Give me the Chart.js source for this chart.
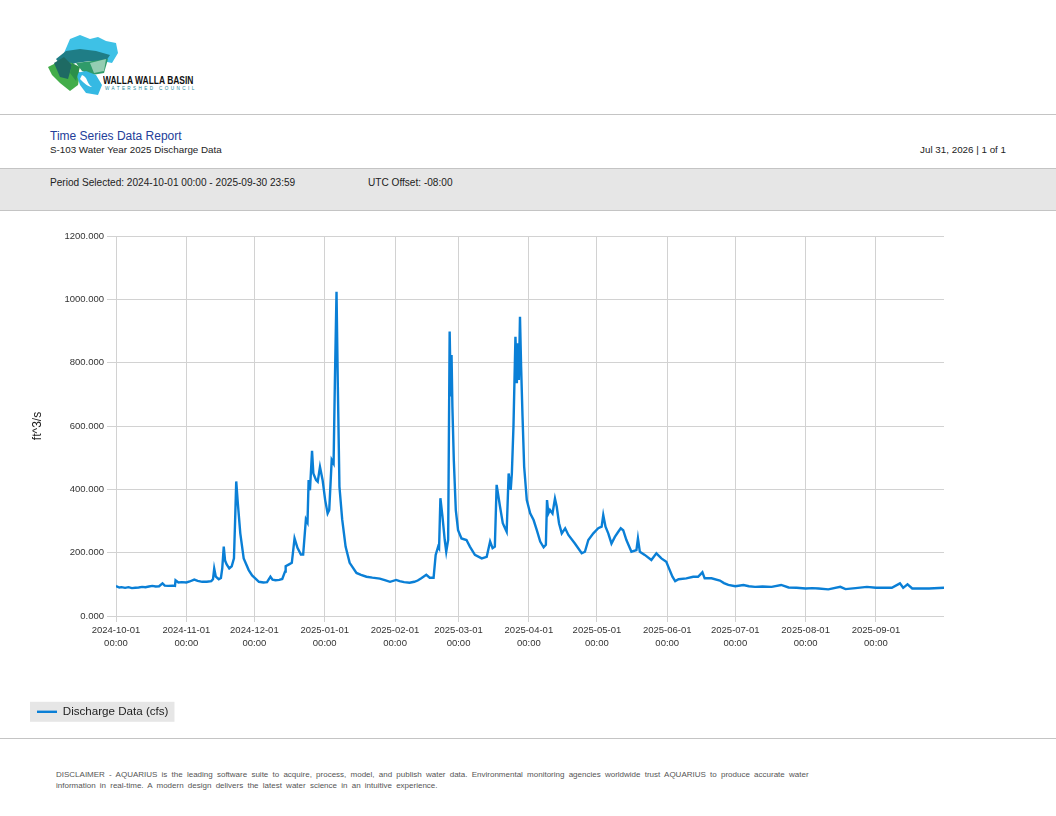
<!DOCTYPE html>
<html>
<head>
<meta charset="utf-8">
<title>S-103 Water Year 2025 Discharge Data</title>
<script src="https://cdn.jsdelivr.net/npm/chart.js@4.4.1/dist/chart.umd.min.js"></script>
<style>
  html, body { margin: 0; padding: 0; background: #fff; }
  body { position: relative; width: 1056px; height: 816px; overflow: hidden;
         font-family: "Liberation Sans", Arial, sans-serif; color: #222; }
  .abs { position: absolute; white-space: nowrap; }
  .rule { position: absolute; left: 0; width: 1056px; height: 0; border-top: 1px solid #c4c4c4; }
  .band { position: absolute; left: 0; top: 168px; width: 1056px; height: 41px;
          background: #e6e6e6; border-top: 1px solid #c4c4c4; border-bottom: 1px solid #c4c4c4; }
  #title { left: 50px; top: 129px; font-size: 12px; line-height: 14px; color: #23409a; }
  #subtitle { left: 50px; top: 144px; font-size: 9.8px; line-height: 12px; color: #222; }
  #stamp { right: 50px; top: 144px; font-size: 9.8px; line-height: 12px; color: #222; }
  #period { left: 50px; top: 177px; font-size: 10.1px; line-height: 12px; color: #222; }
  #utc { left: 368px; top: 177px; font-size: 10.1px; line-height: 12px; color: #222; }
  #chartBox { position: absolute; left: 0; top: 220px; width: 1056px; height: 515px; }
  #disclaimer { left: 56px; top: 769px; font-size: 8px; line-height: 11px; color: #555; word-spacing: 2px; }
  #logoText { left: 103px; top: 75px; font-weight: bold; font-size: 10px; line-height: 11px; color: #111;
              transform: scaleX(0.845); transform-origin: left top; }
  #logoSub { left: 105px; top: 86px; font-size: 4.6px; line-height: 6px; color: #1b8aa0; letter-spacing: 2.4px; }
</style>
</head>
<body>

<svg class="abs" style="left:46px;top:33px" width="76" height="64" viewBox="0 0 76 64">
  <path d="M24 6 L34 2 L44 6 L52 4 L60 8 L70 10 L72 20 L66 30 L56 28 L40 26 L26 24 L18 20 Z" fill="#3ec1e6"/>
  <path d="M10 26 L20 18 L34 16 L50 18 L64 22 L60 28 L44 28 L30 30 L16 34 Z" fill="#1f7d86"/>
  <path d="M30 30 L46 28 L62 26 L58 40 L46 42 L36 38 Z" fill="#2f9b6a"/>
  <path d="M44 30 L60 26 L58 38 L48 40 Z" fill="#d9efe3" opacity="0.6"/>
  <path d="M2 34 L14 28 L26 30 L34 40 L32 52 L24 58 L14 50 L6 42 Z" fill="#43ad4a"/>
  <path d="M8 30 L18 24 L26 32 L22 46 L14 44 Z" fill="#1e6a63"/>
  <path d="M30 40 L40 38 L50 42 L56 52 L52 62 L40 60 L34 52 Z" fill="#35b9e3"/>
  <path d="M36 42 C42 44 40 50 46 54 C42 54 38 50 34 46 Z" fill="#ffffff"/>
  <path d="M26 30 L34 34 L30 48 L24 40 Z" fill="#2b8f4a"/>
</svg>
<div class="abs" id="logoText">WALLA WALLA BASIN</div>
<div class="abs" id="logoSub">WATERSHED COUNCIL</div>

<div class="rule" style="top:114px"></div>
<div class="abs" id="title">Time Series Data Report</div>
<div class="abs" id="subtitle">S-103 Water Year 2025 Discharge Data</div>
<div class="abs" id="stamp">Jul 31, 2026 | 1 of 1</div>
<div class="band"></div>
<div class="abs" id="period">Period Selected: 2024-10-01 00:00 - 2025-09-30 23:59</div>
<div class="abs" id="utc">UTC Offset: -08:00</div>

<div id="chartBox"><canvas id="chart"></canvas></div>

<div class="rule" style="top:738px"></div>
<div class="abs" id="disclaimer">DISCLAIMER - AQUARIUS is the leading software suite to acquire, process, model, and publish water data. Environmental monitoring agencies worldwide trust AQUARIUS to produce accurate water<br>information in real-time. A modern design delivers the latest water science in an intuitive experience.</div>

<script>
// period shown on the report
const periodStart = '2024-10-01 00:00';
const periodEnd = '2025-09-30 23:59';

// x axis tick labels (month starts) and y axis ticks
const monthTicks = [
    '2024-10-01 00:00', '2024-11-01 00:00', '2024-12-01 00:00', '2025-01-01 00:00',
    '2025-02-01 00:00', '2025-03-01 00:00', '2025-04-01 00:00', '2025-05-01 00:00',
    '2025-06-01 00:00', '2025-07-01 00:00', '2025-08-01 00:00', '2025-09-01 00:00'
];
const yTicks = [0, 200, 400, 600, 800, 1000, 1200];

// Discharge Data (cfs)
const times = [
    '2024-10-01 00:00', '2024-10-01 12:00', '2024-10-02 12:00', '2024-10-03 12:00', '2024-10-05 00:00',
    '2024-10-06 12:00', '2024-10-08 00:00', '2024-10-09 12:00', '2024-10-11 00:00', '2024-10-12 12:00',
    '2024-10-14 00:00', '2024-10-15 12:00', '2024-10-17 00:00', '2024-10-18 12:00', '2024-10-20 00:00',
    '2024-10-21 12:00', '2024-10-22 12:00', '2024-10-24 00:00', '2024-10-26 00:00', '2024-10-27 00:00',
    '2024-10-27 06:00', '2024-10-28 12:00', '2024-10-30 00:00',
    '2024-11-01 00:00', '2024-11-02 12:00', '2024-11-04 12:00', '2024-11-06 00:00', '2024-11-08 00:00',
    '2024-11-10 00:00', '2024-11-12 00:00', '2024-11-12 18:00', '2024-11-13 07:00', '2024-11-14 00:00',
    '2024-11-15 07:00', '2024-11-16 06:00', '2024-11-16 20:00', '2024-11-17 12:00', '2024-11-18 02:00',
    '2024-11-18 19:00', '2024-11-19 22:00', '2024-11-21 00:00', '2024-11-22 00:00', '2024-11-22 12:00',
    '2024-11-23 00:00', '2024-11-23 17:00', '2024-11-24 19:00', '2024-11-26 07:00', '2024-11-28 12:00',
    '2024-11-30 00:00',
    '2024-12-01 12:00', '2024-12-03 00:00', '2024-12-05 00:00', '2024-12-06 14:00', '2024-12-08 02:00',
    '2024-12-09 00:00', '2024-12-10 07:00', '2024-12-12 00:00', '2024-12-13 07:00', '2024-12-14 12:00',
    '2024-12-14 19:00', '2024-12-16 07:00', '2024-12-17 12:00', '2024-12-18 17:00', '2024-12-20 00:00',
    '2024-12-21 12:00', '2024-12-22 12:00', '2024-12-23 17:00', '2024-12-24 10:00', '2024-12-24 22:00',
    '2024-12-25 12:00', '2024-12-26 10:00', '2024-12-27 00:00', '2024-12-28 05:00', '2024-12-28 22:00',
    '2024-12-29 22:00', '2024-12-31 02:00',
    '2025-01-01 05:00', '2025-01-02 07:00', '2025-01-03 00:00', '2025-01-04 02:00', '2025-01-04 22:00',
    '2025-01-05 12:00', '2025-01-06 05:00', '2025-01-06 19:00', '2025-01-07 12:00', '2025-01-08 17:00',
    '2025-01-10 05:00', '2025-01-12 00:00', '2025-01-15 00:00', '2025-01-17 00:00', '2025-01-19 10:00',
    '2025-01-22 00:00', '2025-01-25 07:00', '2025-01-27 12:00', '2025-01-29 19:00',
    '2025-02-01 12:00', '2025-02-03 00:00', '2025-02-05 00:00', '2025-02-07 10:00', '2025-02-09 12:00',
    '2025-02-11 00:00', '2025-02-12 14:00', '2025-02-14 19:00', '2025-02-16 07:00', '2025-02-18 00:00',
    '2025-02-18 22:00', '2025-02-20 00:00', '2025-02-20 10:00', '2025-02-21 00:00', '2025-02-21 22:00',
    '2025-02-22 22:00', '2025-02-23 14:00', '2025-02-24 10:00', '2025-02-25 02:00', '2025-02-25 14:00',
    '2025-02-25 22:00', '2025-02-26 07:00', '2025-02-26 22:00', '2025-02-27 19:00', '2025-02-28 19:00',
    '2025-03-02 07:00', '2025-03-04 12:00', '2025-03-06 00:00', '2025-03-08 05:00', '2025-03-11 05:00',
    '2025-03-13 10:00', '2025-03-14 22:00', '2025-03-16 00:00', '2025-03-17 00:00', '2025-03-17 19:00',
    '2025-03-19 07:00', '2025-03-20 12:00', '2025-03-21 12:00', '2025-03-22 05:00', '2025-03-23 02:00',
    '2025-03-24 00:00', '2025-03-24 12:00', '2025-03-25 05:00', '2025-03-26 02:00', '2025-03-26 17:00',
    '2025-03-27 02:00', '2025-03-27 14:00', '2025-03-28 02:00', '2025-03-28 14:00', '2025-03-29 05:00',
    '2025-03-29 22:00', '2025-03-31 02:00',
    '2025-04-01 14:00', '2025-04-03 02:00', '2025-04-04 12:00', '2025-04-06 00:00', '2025-04-07 12:00',
    '2025-04-08 12:00', '2025-04-09 00:00', '2025-04-09 14:00', '2025-04-10 07:00', '2025-04-11 10:00',
    '2025-04-12 12:00', '2025-04-13 07:00', '2025-04-14 07:00', '2025-04-15 12:00', '2025-04-17 00:00',
    '2025-04-18 10:00', '2025-04-21 07:00', '2025-04-24 07:00', '2025-04-25 17:00', '2025-04-27 05:00',
    '2025-04-29 10:00',
    '2025-05-01 14:00', '2025-05-03 02:00', '2025-05-03 19:00', '2025-05-04 19:00', '2025-05-06 00:00',
    '2025-05-07 10:00', '2025-05-08 22:00', '2025-05-10 10:00', '2025-05-11 12:00', '2025-05-12 14:00',
    '2025-05-14 00:00', '2025-05-16 05:00', '2025-05-18 10:00', '2025-05-19 02:00', '2025-05-19 22:00',
    '2025-05-22 02:00', '2025-05-25 00:00', '2025-05-27 05:00', '2025-05-29 10:00', '2025-05-31 14:00',
    '2025-06-01 12:00', '2025-06-03 07:00', '2025-06-04 12:00', '2025-06-06 00:00', '2025-06-09 10:00',
    '2025-06-12 10:00', '2025-06-14 14:00', '2025-06-16 12:00', '2025-06-17 12:00', '2025-06-20 12:00',
    '2025-06-24 05:00', '2025-06-26 00:00', '2025-06-27 22:00',
    '2025-07-01 00:00', '2025-07-04 14:00', '2025-07-07 00:00', '2025-07-09 17:00', '2025-07-13 00:00',
    '2025-07-17 00:00', '2025-07-21 05:00', '2025-07-24 12:00', '2025-07-28 00:00',
    '2025-08-01 00:00', '2025-08-04 00:00', '2025-08-06 17:00', '2025-08-11 00:00', '2025-08-16 07:00',
    '2025-08-18 14:00', '2025-08-23 00:00', '2025-08-28 00:00',
    '2025-09-01 00:00', '2025-09-08 00:00', '2025-09-11 14:00', '2025-09-13 00:00', '2025-09-14 22:00',
    '2025-09-17 00:00', '2025-09-24 10:00', '2025-09-30 23:59'
];
const discharge = [
    95, 93, 90, 91, 89, 91, 88, 89, 90, 92, 91, 93, 95, 93, 94, 103, 96, 95, 96, 95, 113, 106, 107,
    106, 109, 115, 111, 108, 108, 110, 116, 150, 124, 116, 120, 150, 219, 175, 163, 150, 157, 182, 300,
    425, 356, 261, 182, 145, 128,
    118, 108, 106, 107, 124, 115, 113, 114, 117, 140, 157, 163, 168, 245, 215, 194, 194, 305, 295, 429,
    397, 522, 450, 429, 424, 471, 429,
    366, 324, 335, 493, 482, 745, 1024, 724, 408, 305, 219, 168, 136, 130, 124, 121, 118, 113, 108,
    114, 110, 107, 105, 108, 112, 119, 130, 121, 121, 193, 219, 214, 372, 314, 240, 203, 240, 898, 693,
    824, 661, 492, 334, 271,
    245, 240, 219, 193, 182, 187, 235, 214, 219, 414, 345, 293, 277, 266, 450, 398, 450, 598, 882, 735,
    861, 745, 945, 787, 629, 472, 366,
    324, 303, 271, 235, 217, 225, 366, 324, 335, 324, 371, 345, 293, 261, 277, 256, 229, 198, 203, 240,
    261,
    277, 282, 319, 282, 261, 229, 250, 266, 277, 271, 240, 203, 208, 245, 203, 193, 177, 198, 182, 171,
    155, 124, 110, 116, 119, 124, 124, 138, 119, 119, 112, 104, 98,
    94, 98, 94, 92, 93, 92, 98, 90, 89,
    87, 88, 87, 84, 92, 85, 88, 92,
    89, 89, 103, 89, 100, 87, 87, 89
];

const DAY = 86400000;
const t0 = Date.parse(periodStart.replace(' ', 'T') + 'Z');
const toDay = s => (Date.parse(s.replace(' ', 'T') + 'Z') - t0) / DAY;

const tickFont = { family: '"Liberation Sans", Arial, sans-serif', size: 9.5, lineHeight: 1.37 };
const gridColor = '#d2d2d2';

// grey panel behind the legend, and a fixed legend height so the plot area stays put
const legendPanel = {
    id: 'legendPanel',
    beforeLayout(chart) {
        const lg = chart.legend;
        if (lg && !lg.$fixed) {
            const fit = lg.fit.bind(lg);
            lg.fit = () => { fit(); lg.height = 34; };
            lg.$fixed = true;
        }
    },
    beforeDraw(chart) {
        const hb = chart.legend && chart.legend.legendHitBoxes && chart.legend.legendHitBoxes[0];
        if (!hb) return;
        const ctx = chart.ctx;
        const cy = hb.top + hb.height / 2;
        ctx.save();
        ctx.fillStyle = '#e6e6e6';
        ctx.fillRect(hb.left - 7, cy - 10, hb.width + 13, 20);
        ctx.restore();
    }
};

new Chart(document.getElementById('chart'), {
    type: 'line',
    data: {
        datasets: [{
            label: 'Discharge Data (cfs)',
            data: times.map((t, i) => ({ x: toDay(t), y: discharge[i] })),
            borderColor: '#0a7fd6',
            backgroundColor: '#0a7fd6',
            borderWidth: 2.4,
            pointRadius: 0,
            tension: 0,
            fill: false
        }]
    },
    options: {
        responsive: true,
        maintainAspectRatio: false,
        animation: false,
        layout: { padding: { left: 27, right: 112, top: 16, bottom: 5 } },
        plugins: {
            tooltip: { enabled: false },
            legend: {
                position: 'bottom',
                align: 'start',
                labels: {
                    usePointStyle: true,
                    pointStyle: 'line',
                    pointStyleWidth: 20,
                    padding: 10,
                    color: '#222',
                    font: { family: '"Liberation Sans", Arial, sans-serif', size: 11.6 }
                }
            }
        },
        scales: {
            x: {
                type: 'linear',
                min: 0,
                max: toDay(periodEnd),
                afterBuildTicks: s => { s.ticks = monthTicks.map(m => ({ value: toDay(m) })); },
                afterFit: s => { s.height = 80; },
                ticks: {
                    autoSkip: false,
                    maxRotation: 0,
                    padding: 2,
                    color: '#333',
                    font: tickFont,
                    callback: (v, i) => monthTicks[i].split(' ')
                },
                grid: { color: gridColor, tickLength: 6 },
                border: { display: false }
            },
            y: {
                min: 0,
                max: 1200,
                afterBuildTicks: s => { s.ticks = yTicks.map(v => ({ value: v })); },
                afterFit: s => { s.width = 89; },
                ticks: {
                    padding: 3,
                    color: '#333',
                    font: tickFont,
                    callback: v => v.toFixed(3)
                },
                grid: { color: gridColor, tickLength: 9 },
                border: { display: false },
                title: {
                    display: true,
                    text: 'ft^3/s',
                    color: '#222',
                    font: { family: '"Liberation Sans", Arial, sans-serif', size: 12 },
                    padding: { top: 3, bottom: 0 }
                }
            }
        }
    },
    plugins: [legendPanel]
});
</script>
</body>
</html>
